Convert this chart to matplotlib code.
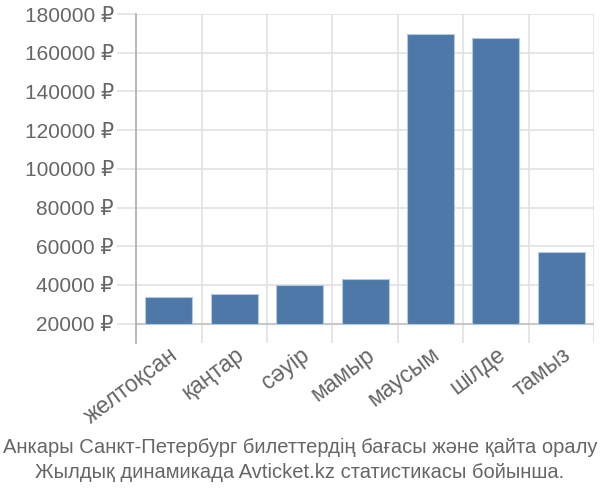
import matplotlib
matplotlib.use("Agg")
import matplotlib.pyplot as plt
from matplotlib.ticker import FuncFormatter
from matplotlib.transforms import ScaledTranslation

# data
months = ["желтоқсан", "қаңтар", "сәуір", "мамыр", "маусым", "шілде", "тамыз"]
prices = [33800, 35100, 39800, 43000, 169700, 167400, 57200]
base = 20000
yticks = [20000, 40000, 60000, 80000, 100000, 120000, 140000, 160000, 180000]
caption = ("Анкары Санкт-Петербург билеттердің бағасы және қайта оралу\n"
           "Жылдық динамикада Avticket.kz статистикасы бойынша.")

grey = "#666666"
fonts = ["Liberation Sans", "DejaVu Sans"]
fig = plt.figure(figsize=(6, 5), dpi=100)
ax = fig.add_axes([0.227, 0.314, 0.763, 0.658])

x = range(len(months))
ax.bar(x, [p - base for p in prices], bottom=base, width=0.72,
       color="#4d78a7", edgecolor="#b5c9e0", linewidth=0.8, zorder=3)
ax.axhline(base, color="#c8c8c8", linewidth=1.5, zorder=2)

ax.set_xlim(-0.5, len(months) - 0.5)
ax.set_ylim(10000, 180000)
ax.set_yticks(yticks)
ax.yaxis.set_major_formatter(FuncFormatter(lambda v, p: f"{int(v)} ₽"))
ax.set_xticks([i + 0.5 for i in x])
ax.set_xticklabels([])
ax.set_xticks(list(x), minor=True)
ax.set_xticklabels(months, minor=True, rotation=37, ha="right",
                   rotation_mode="anchor", fontsize=16.5, color=grey,
                   family=fonts)
shift = ScaledTranslation(-5 / 100, 0, fig.dpi_scale_trans)
for lbl in ax.get_xticklabels(minor=True):
    lbl.set_transform(lbl.get_transform() + shift)

ax.grid(True, which="major", color="#e2e2e2", linewidth=1.2, zorder=0)
ax.tick_params(axis="y", length=14, color="#e2e2e2", width=1.2,
               labelsize=15, labelcolor=grey, pad=2)
ax.tick_params(axis="x", which="major", length=0)
ax.tick_params(axis="x", which="minor", length=0, pad=0)
for lbl in ax.get_yticklabels():
    lbl.set_family(fonts)

for s in ["top", "right", "bottom"]:
    ax.spines[s].set_visible(False)
ax.spines["left"].set_color("#aaaaaa")
ax.spines["left"].set_linewidth(1.2)

fig.text(0.5, 0.08, caption, ha="center", va="center", fontsize=14.5,
         color=grey, linespacing=1.35, family=fonts)

fig.savefig("out.png", dpi=100)
